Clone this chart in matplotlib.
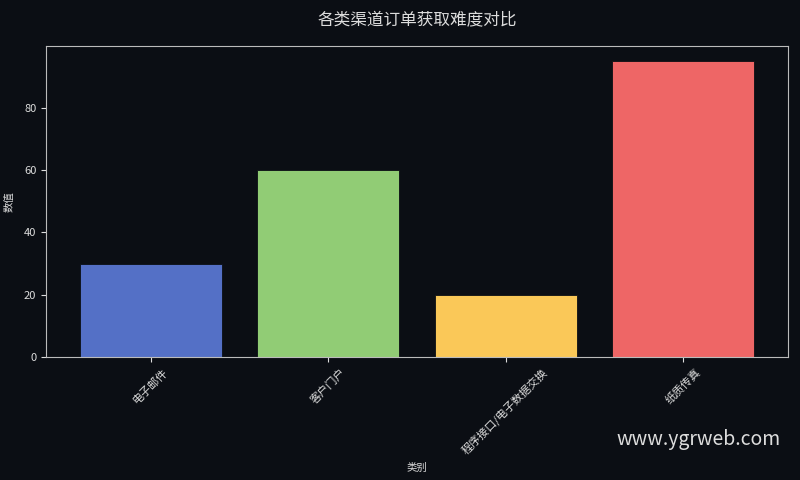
import matplotlib
matplotlib.use("Agg")
import matplotlib.pyplot as plt

plt.rcParams['font.family'] = ['Noto Sans CJK SC', 'DejaVu Sans']

categories = ['电子邮件', '客户门户', '程序接口/电子数据交换', '纸质传真']
values = [30, 60, 20, 95]
colors = ['#5470c6', '#91cc75', '#fac858', '#ee6666']

bg = '#0b0e14'
fg = '#dddddd'

fig = plt.figure(figsize=(8, 4.8), dpi=100, facecolor=bg)
ax = fig.add_axes([0.0575, 0.256, 0.9275, 0.648], facecolor=bg)

ax.bar(categories, values, color=colors, width=0.8, edgecolor=bg, linewidth=0.6)

ax.set_title('各类渠道订单获取难度对比', color=fg, fontsize=12, pad=15)
ax.set_xlabel('类别', color=fg, fontsize=7.5, labelpad=4)
ax.set_ylabel('数值', color=fg, fontsize=7.5, labelpad=7)
ax.tick_params(colors=fg, labelsize=8)
plt.setp(ax.get_xticklabels(), rotation=45)
for s in ax.spines.values():
    s.set_color('#bbbbbb')

fig.text(0.976, 0.063, 'www.ygrweb.com', color='#dddddd', fontsize=14,
         ha='right', va='bottom')

fig.savefig('out.png', dpi=100, facecolor=bg)
